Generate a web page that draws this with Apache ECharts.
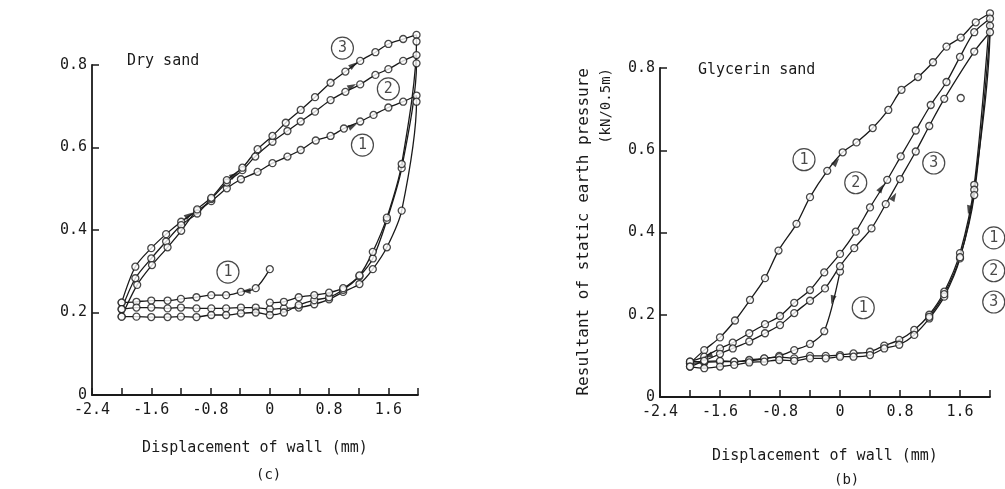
<!DOCTYPE html>
<html>
<head>
<meta charset="utf-8">
<script src="https://cdn.jsdelivr.net/npm/echarts@6/dist/echarts.min.js"></script>
<style>
  html, body { margin: 0; padding: 0; background: #fff; }
  #main { width: 1005px; height: 489px; }
</style>
</head>
<body>
<div id="main"></div>
<script>
// ---- dry sand (left, panel c) : [displacement mm, resultant kN/0.5m]
var dryInit1 = [[0, 0.305], [-0.19, 0.259], [-0.39, 0.25], [-0.59, 0.242], [-0.79, 0.242], [-0.99, 0.237], [-1.2, 0.233], [-1.38, 0.229], [-1.6, 0.229], [-1.8, 0.226], [-2.0, 0.224]];
var dryLoad1 = [[-2.0, 0.224], [-1.815, 0.311], [-1.6, 0.356], [-1.4, 0.39], [-1.196, 0.42], [-0.98, 0.447], [-0.79, 0.47], [-0.58, 0.501], [-0.39, 0.523], [-0.165, 0.541], [0.036, 0.562], [0.238, 0.578], [0.417, 0.594], [0.62, 0.617], [0.82, 0.628], [1.0, 0.646], [1.22, 0.663], [1.4, 0.679], [1.6, 0.697], [1.8, 0.711], [1.98, 0.726]];
var dryUnload1 = [[1.98, 0.711], [1.78, 0.447], [1.58, 0.358], [1.39, 0.305], [1.21, 0.269], [0.99, 0.25], [0.8, 0.232], [0.6, 0.22], [0.39, 0.212], [0.19, 0.21], [0, 0.208], [-0.19, 0.212], [-0.39, 0.212], [-0.59, 0.21], [-0.79, 0.21], [-0.99, 0.21], [-1.2, 0.212], [-1.38, 0.21], [-1.6, 0.212], [-1.8, 0.212], [-2.0, 0.208]];
var dryLoad2 = [[-2.0, 0.208], [-1.815, 0.283], [-1.6, 0.331], [-1.4, 0.372], [-1.196, 0.412], [-0.98, 0.44], [-0.79, 0.475], [-0.58, 0.515], [-0.37, 0.545], [-0.197, 0.578], [0.036, 0.614], [0.238, 0.64], [0.417, 0.663], [0.61, 0.687], [0.82, 0.715], [1.02, 0.735], [1.22, 0.753], [1.425, 0.776], [1.6, 0.79], [1.8, 0.81], [1.98, 0.824]];
var dryUnload2 = [[1.98, 0.804], [1.78, 0.55], [1.58, 0.424], [1.39, 0.331], [1.21, 0.288], [0.99, 0.255], [0.8, 0.237], [0.6, 0.23], [0.39, 0.218], [0.19, 0.2], [0, 0.194], [-0.19, 0.2], [-0.39, 0.198], [-0.59, 0.194], [-0.79, 0.194], [-0.99, 0.189], [-1.2, 0.19], [-1.38, 0.189], [-1.6, 0.189], [-1.8, 0.19], [-2.0, 0.19]];
var dryLoad3 = [[-2.0, 0.19], [-1.79, 0.267], [-1.59, 0.315], [-1.38, 0.358], [-1.196, 0.398], [-0.98, 0.45], [-0.79, 0.478], [-0.58, 0.521], [-0.37, 0.551], [-0.165, 0.596], [0.036, 0.628], [0.215, 0.66], [0.417, 0.691], [0.61, 0.722], [0.82, 0.757], [1.02, 0.784], [1.22, 0.81], [1.425, 0.831], [1.6, 0.851], [1.8, 0.863], [1.98, 0.873]];
var dryUnload3 = [[1.98, 0.857], [1.78, 0.56], [1.58, 0.43], [1.39, 0.347], [1.21, 0.29], [0.99, 0.259], [0.8, 0.248], [0.6, 0.242], [0.39, 0.237], [0.19, 0.226], [0, 0.224]];
var dryArrows = [[1.13, 0.80, -54], [1.11, 0.749, -62], [1.12, 0.652, -64], [-0.32, 0.252, 90], [-1.09, 0.436, -55], [-0.48, 0.533, -57]];
var dryTags = [[0.98, 0.841, '3'], [1.6, 0.742, '2'], [1.25, 0.606, '1'], [-0.565, 0.298, '1']];

// ---- glycerin sand (right, panel b)
var glyInit1 = [[0, 0.305], [-0.21, 0.16], [-0.4, 0.129], [-0.61, 0.114], [-0.81, 0.1], [-1.01, 0.093], [-1.21, 0.088], [-1.41, 0.086], [-1.6, 0.086], [-1.81, 0.084], [-2.0, 0.082]];
var glyLoad1 = [[-2.0, 0.082], [-1.81, 0.114], [-1.6, 0.145], [-1.4, 0.186], [-1.2, 0.236], [-1.0, 0.289], [-0.82, 0.356], [-0.58, 0.421], [-0.4, 0.486], [-0.17, 0.55], [0.036, 0.595], [0.22, 0.619], [0.436, 0.654], [0.644, 0.698], [0.82, 0.747], [1.04, 0.778], [1.24, 0.814], [1.42, 0.852], [1.61, 0.874], [1.81, 0.911], [2.0, 0.933]];
var glyUnload1 = [[1.79, 0.516], [1.6, 0.35], [1.39, 0.256], [1.19, 0.2], [0.99, 0.163], [0.79, 0.139], [0.59, 0.125], [0.4, 0.11], [0.18, 0.106], [0, 0.102], [-0.19, 0.1], [-0.4, 0.1], [-0.61, 0.094], [-0.81, 0.097], [-1.01, 0.094], [-1.21, 0.09], [-1.41, 0.086], [-1.6, 0.088], [-1.81, 0.086], [-2.0, 0.086]];
var glyLoad2 = [[-2.0, 0.086], [-1.81, 0.098], [-1.6, 0.118], [-1.43, 0.132], [-1.21, 0.155], [-1.0, 0.177], [-0.8, 0.197], [-0.61, 0.229], [-0.4, 0.26], [-0.21, 0.303], [0, 0.348], [0.21, 0.402], [0.4, 0.461], [0.63, 0.528], [0.81, 0.585], [1.01, 0.648], [1.21, 0.71], [1.42, 0.766], [1.6, 0.827], [1.79, 0.887], [2.0, 0.92]];
var glyUnload2 = [[2.0, 0.903], [1.79, 0.504], [1.6, 0.337], [1.39, 0.244], [1.19, 0.191], [0.99, 0.151], [0.79, 0.127], [0.59, 0.118], [0.4, 0.102], [0.18, 0.098], [0, 0.098], [-0.19, 0.094], [-0.4, 0.094], [-0.61, 0.088], [-0.81, 0.09], [-1.01, 0.086], [-1.21, 0.084], [-1.41, 0.078], [-1.6, 0.074], [-1.81, 0.07], [-2.0, 0.074]];
var glyLoad3 = [[-2.0, 0.074], [-1.81, 0.088], [-1.6, 0.105], [-1.43, 0.118], [-1.21, 0.135], [-1.0, 0.155], [-0.8, 0.175], [-0.61, 0.204], [-0.4, 0.234], [-0.2, 0.264], [0, 0.318], [0.19, 0.362], [0.42, 0.41], [0.61, 0.469], [0.8, 0.53], [1.01, 0.597], [1.19, 0.659], [1.39, 0.725], [1.79, 0.84], [2.0, 0.887]];
var glyUnload3 = [[1.79, 0.491], [1.6, 0.34], [1.39, 0.25], [1.19, 0.195]];
var glyStray = [[1.61, 0.727]];
var glyArrows = [[-0.05, 0.572, -40], [0.55, 0.508, -32], [0.72, 0.487, -30], [1.72, 0.455, 167], [-0.1, 0.236, 165], [-1.76, 0.1, 110]];
var glyTags = [[-0.48, 0.577, '1'], [0.21, 0.521, '2'], [1.25, 0.569, '3'], [0.31, 0.217, '1'], [2.05, 0.387, '1'], [2.05, 0.307, '2'], [2.05, 0.231, '3']];

var FONT = 'DejaVu Sans Mono';
var INK = '#1a1a1a';

function fmt(v) {
    if (Math.abs(v) < 1e-9) return '0';
    return v.toFixed(1);
}

function xAxisOf(gi, gap) {
    return {
        type: 'value', gridIndex: gi, min: -2.4, max: 2.0, interval: 0.4,
        name: 'Displacement of wall (mm)', nameLocation: 'middle', nameGap: gap,
        nameTextStyle: {fontFamily: FONT, fontSize: 15, color: INK},
        axisLine: {show: true, onZero: false, lineStyle: {color: INK, width: 1.8}},
        axisTick: {show: true, inside: true, length: 7, lineStyle: {color: INK, width: 1.5}},
        axisLabel: {
            fontFamily: FONT, fontSize: 15, color: INK, margin: 8,
            formatter: function (v) {
                return Math.abs(Math.round(v / 0.4)) % 2 === 0 ? fmt(v) : '';
            }
        },
        splitLine: {show: false}
    };
}

function yAxisOf(gi) {
    return {
        type: 'value', gridIndex: gi, min: 0, max: 0.8, interval: 0.2,
        axisLine: {show: true, onZero: false, lineStyle: {color: INK, width: 1.8}},
        axisTick: {show: true, inside: true, length: 7, lineStyle: {color: INK, width: 1.5}},
        axisLabel: {fontFamily: FONT, fontSize: 15, color: INK, margin: 5, formatter: fmt},
        splitLine: {show: false}
    };
}

function curve(data, gi) {
    return {
        type: 'line', xAxisIndex: gi, yAxisIndex: gi, data: data,
        smooth: 0.3, clip: false, showSymbol: false, silent: true,
        lineStyle: {color: INK, width: 1.3}, z: 2
    };
}

function dots(data, gi) {
    return {
        type: 'scatter', xAxisIndex: gi, yAxisIndex: gi, data: data, clip: false,
        symbol: 'circle', symbolSize: 7, silent: true,
        itemStyle: {color: '#fff', borderColor: INK, borderWidth: 1.3}, z: 3
    };
}

function arrows(list, gi) {
    return {
        type: 'scatter', xAxisIndex: gi, yAxisIndex: gi, clip: false, silent: true,
        symbol: 'triangle', symbolSize: [6, 9], itemStyle: {color: INK}, z: 4,
        data: list.map(function (a) {
            return {value: [a[0], a[1]], symbolRotate: a[2]};
        })
    };
}

function tags(list, gi) {
    return {
        type: 'scatter', xAxisIndex: gi, yAxisIndex: gi, clip: false, silent: true,
        symbol: 'circle', symbolSize: 22, z: 5,
        itemStyle: {color: '#fff', borderColor: INK, borderWidth: 1.2},
        label: {
            show: true, position: 'inside', fontFamily: FONT, fontSize: 15, color: INK,
            formatter: function (p) { return p.value[2]; }
        },
        data: list
    };
}

var dryAll = [].concat(dryInit1, dryLoad1, dryUnload1, dryLoad2, dryUnload2, dryLoad3, dryUnload3);
var glyAll = [].concat(glyInit1, glyLoad1, glyUnload1, glyLoad2, glyUnload2, glyLoad3, glyUnload3, glyStray);

var myChart = echarts.init(document.getElementById('main'));

var option = {
    animation: false,
    backgroundColor: '#fff',
    grid: [
        {left: 92, top: 65, width: 326, height: 330},
        {left: 660, top: 68, width: 330, height: 329}
    ],
    xAxis: [xAxisOf(0, 46), xAxisOf(1, 52)],
    yAxis: [yAxisOf(0), yAxisOf(1)],
    graphic: [
        {type: 'text', left: 127, top: 54, style: {text: 'Dry sand', font: '15px ' + FONT, fill: INK}},
        {type: 'text', left: 698, top: 63, style: {text: 'Glycerin sand', font: '15px ' + FONT, fill: INK}},
        {type: 'text', left: 256, top: 468, style: {text: '(c)', font: '14px ' + FONT, fill: INK}},
        {type: 'text', left: 834, top: 473, style: {text: '(b)', font: '14px ' + FONT, fill: INK}},
        {
            type: 'text', x: 584, y: 68, rotation: Math.PI / 2,
            style: {text: 'Resultant of static earth pressure', font: '16px ' + FONT, fill: INK,
                    align: 'right', verticalAlign: 'middle'}
        },
        {
            type: 'text', x: 606, y: 68, rotation: Math.PI / 2,
            style: {text: '(kN/0.5m)', font: '14px ' + FONT, fill: INK,
                    align: 'right', verticalAlign: 'middle'}
        }
    ],
    series: [
        curve(dryInit1, 0),
        curve(dryLoad1.concat(dryUnload1), 0),
        curve(dryLoad2.concat(dryUnload2), 0),
        curve(dryLoad3.concat(dryUnload3), 0),
        dots(dryAll, 0),
        arrows(dryArrows, 0),
        tags(dryTags, 0),

        curve(glyInit1, 1),
        curve(glyLoad1.concat(glyUnload1), 1),
        curve(glyLoad2.concat(glyUnload2), 1),
        curve(glyLoad3.concat(glyUnload3), 1),
        dots(glyAll, 1),
        arrows(glyArrows, 1),
        tags(glyTags, 1)
    ]
};
myChart.setOption(option);
</script>
</body>
</html>
